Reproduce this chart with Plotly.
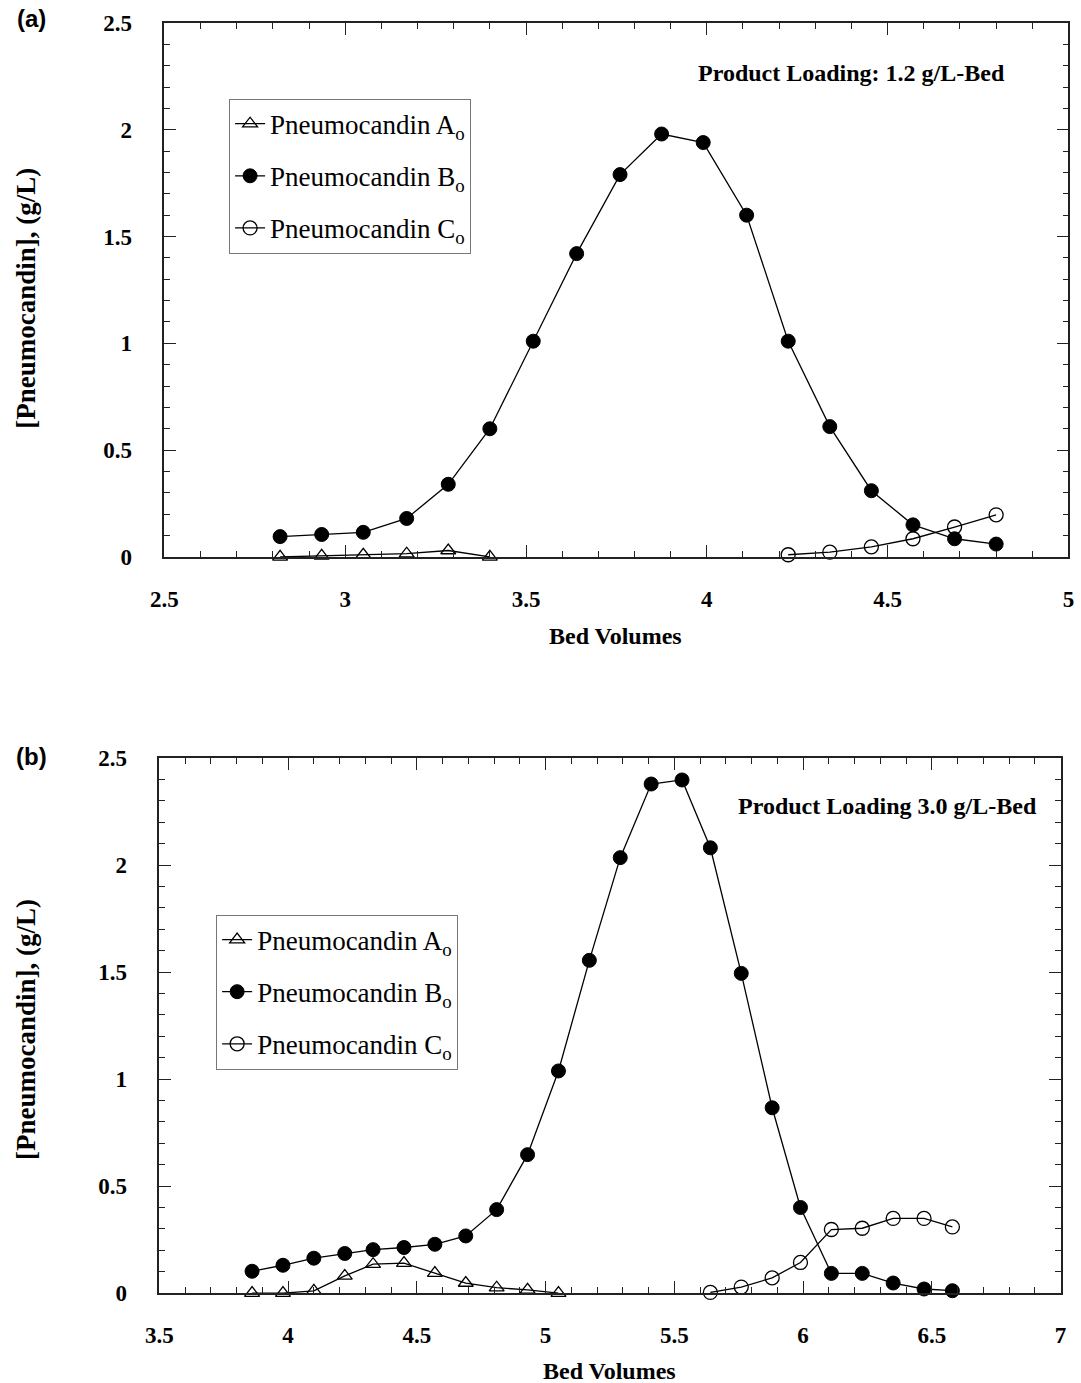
import plotly.graph_objects as go

# ---------------- Data: panel (a), product loading 1.2 g/L-bed ----------------
a_x_A = [2.82, 2.935, 3.05, 3.17, 3.285, 3.40]
a_y_A = [0.0, 0.005, 0.01, 0.015, 0.03, 0.0]

a_x_B = [2.82, 2.935, 3.05, 3.17, 3.285, 3.40, 3.52, 3.64, 3.76, 3.875, 3.99,
         4.11, 4.225, 4.34, 4.455, 4.57, 4.685, 4.80]
a_y_B = [0.095, 0.105, 0.115, 0.18, 0.34, 0.60, 1.01, 1.42, 1.79, 1.98, 1.94,
         1.60, 1.01, 0.61, 0.31, 0.15, 0.085, 0.06]

a_x_C = [4.225, 4.34, 4.455, 4.57, 4.685, 4.80]
a_y_C = [0.01, 0.022, 0.047, 0.085, 0.14, 0.197]

# ---------------- Data: panel (b), product loading 3.0 g/L-bed ----------------
b_x_A = [3.86, 3.98, 4.10, 4.22, 4.33, 4.45, 4.57, 4.69, 4.81, 4.93, 5.05]
b_y_A = [0.0, 0.0, 0.01, 0.08, 0.135, 0.14, 0.093, 0.047, 0.025, 0.015, 0.0]

b_x_B = [3.86, 3.98, 4.10, 4.22, 4.33, 4.45, 4.57, 4.69, 4.81, 4.93, 5.05, 5.17,
         5.29, 5.41, 5.53, 5.64, 5.76, 5.88, 5.99, 6.11, 6.23, 6.35, 6.47, 6.58]
b_y_B = [0.102, 0.13, 0.163, 0.185, 0.203, 0.213, 0.228, 0.267, 0.39, 0.647, 1.038, 1.555,
         2.035, 2.379, 2.398, 2.081, 1.494, 0.866, 0.40, 0.092, 0.092, 0.047, 0.019, 0.011]

b_x_C = [5.64, 5.76, 5.88, 5.99, 6.11, 6.23, 6.35, 6.47, 6.58]
b_y_C = [0.003, 0.028, 0.071, 0.143, 0.297, 0.303, 0.349, 0.349, 0.309]

series_names = ["Pneumocandin A<sub>o</sub>", "Pneumocandin B<sub>o</sub>", "Pneumocandin C<sub>o</sub>"]

a_xticks = [2.5, 3, 3.5, 4, 4.5, 5]
a_xticklabels = ["2.5", "3", "3.5", "4", "4.5", "5"]
b_xticks = [3.5, 4, 4.5, 5, 5.5, 6, 6.5, 7]
b_xticklabels = ["3.5", "4", "4.5", "5", "5.5", "6", "6.5", "7"]
yticks = [0, 0.5, 1, 1.5, 2, 2.5]
yticklabels = ["0", "0.5", "1", "1.5", "2", "2.5"]

panel_titles = ["Product Loading: 1.2 g/L-Bed", "Product Loading 3.0 g/L-Bed"]
x_title = "Bed Volumes"
y_title = "[Pneumocandin], (g/L)"

# ---------------- Figure ----------------
W, H = 1081, 1383
SERIF = "Liberation Serif, Times New Roman, serif"
# compensation for the page being rendered with a slight shrink/offset
OFF, SC = 11.0, 0.9857

fig = go.Figure()

styles = [
    dict(symbol="triangle-up-open", size=13, color="black", line=dict(width=1.3, color="black")),
    dict(symbol="circle", size=14, color="black", line=dict(width=1, color="black")),
    dict(symbol="circle-open", size=14, color="black", line=dict(width=1.3, color="black")),
]

panels = [
    (("x", "y"), "legend", [(a_x_A, a_y_A), (a_x_B, a_y_B), (a_x_C, a_y_C)]),
    (("x2", "y2"), "legend2", [(b_x_A, b_y_A), (b_x_B, b_y_B), (b_x_C, b_y_C)]),
]
for pi, ((xa, ya), leg, data) in enumerate(panels):
    for si, (xs, ys) in enumerate(data):
        fig.add_trace(go.Scatter(
            x=xs, y=ys, mode="lines+markers", name=series_names[si],
            xaxis=xa, yaxis=ya, legend=leg, legendgroup=f"p{pi}s{si}",
            line=dict(color="black", width=1.3),
            marker=styles[si], cliponaxis=False,
        ))

def px2x(p):
    return ((p - OFF) / SC) / W

def py2y(p):
    return 1 - ((p - OFF) / SC) / H

def bold(labels):
    return ["<b>" + t + "</b>" for t in labels]

tickfont = dict(family=SERIF, size=23, color="black")
common_axis = dict(
    showline=True, linecolor="#222", linewidth=1.5, mirror="allticks",
    ticks="inside", ticklen=12, tickwidth=1.2, tickcolor="#222",
    showgrid=False, zeroline=False, tickfont=tickfont,
    minor=dict(ticks="inside", ticklen=6, tickwidth=1, tickcolor="#222", dtick=0.1, showgrid=False),
)

legend_common = dict(xanchor="left", yanchor="top", bgcolor="white", bordercolor="#777", borderwidth=1,
                     font=dict(family=SERIF, size=27, color="black"), tracegroupgap=14)

fig.update_layout(
    width=W, height=H, margin=dict(l=0, r=0, t=0, b=0),
    paper_bgcolor="white", plot_bgcolor="white", showlegend=True,
    xaxis=dict(domain=[px2x(162), px2x(1070)], range=[2.5, 5], anchor="y",
               tickvals=a_xticks, ticktext=bold(a_xticklabels), ticklabelstandoff=21, **common_axis),
    yaxis=dict(domain=[py2y(558), py2y(22)], range=[0, 2.5], anchor="x",
               tickvals=yticks, ticktext=bold(yticklabels), ticklabelstandoff=26, **common_axis),
    xaxis2=dict(domain=[px2x(157), px2x(1062)], range=[3.5, 7], anchor="y2",
                tickvals=b_xticks, ticktext=bold(b_xticklabels), ticklabelstandoff=21, **common_axis),
    yaxis2=dict(domain=[py2y(1297), py2y(760)], range=[0, 2.5], anchor="x2",
                tickvals=yticks, ticktext=bold(yticklabels), ticklabelstandoff=26, **common_axis),
    legend=dict(x=px2x(227), y=py2y(98), **legend_common),
    legend2=dict(x=px2x(214), y=py2y(917), **legend_common),
)

annotations = [
    dict(text="<b>" + panel_titles[0] + "</b>", x=px2x(1008), y=py2y(72), xanchor="right", yanchor="middle", size=24),
    dict(text="<b>" + panel_titles[1] + "</b>", x=px2x(1040), y=py2y(808), xanchor="right", yanchor="middle", size=24),
    dict(text="<b>" + x_title + "</b>", x=px2x(615), y=py2y(637), xanchor="center", yanchor="middle", size=24),
    dict(text="<b>" + x_title + "</b>", x=px2x(609), y=py2y(1375), xanchor="center", yanchor="middle", size=24),
    dict(text="<b>" + y_title + "</b>", x=px2x(23), y=py2y(298), xanchor="center", yanchor="middle", textangle=-90, size=27),
    dict(text="<b>" + y_title + "</b>", x=px2x(23), y=py2y(1032), xanchor="center", yanchor="middle", textangle=-90, size=27),
]
for a in annotations:
    sz = a.pop("size")
    a.update(xref="paper", yref="paper", showarrow=False, font=dict(family=SERIF, size=sz, color="black"))
    fig.add_annotation(**a)

for lab, yy in [("(a)", 18), ("(b)", 758)]:
    fig.add_annotation(text="<b>" + lab + "</b>", x=px2x(29), y=py2y(yy), xref="paper", yref="paper",
                       showarrow=False, xanchor="center", yanchor="middle",
                       font=dict(family="Liberation Sans, Arial, sans-serif", size=24, color="black"))

fig.write_html("out.html")
